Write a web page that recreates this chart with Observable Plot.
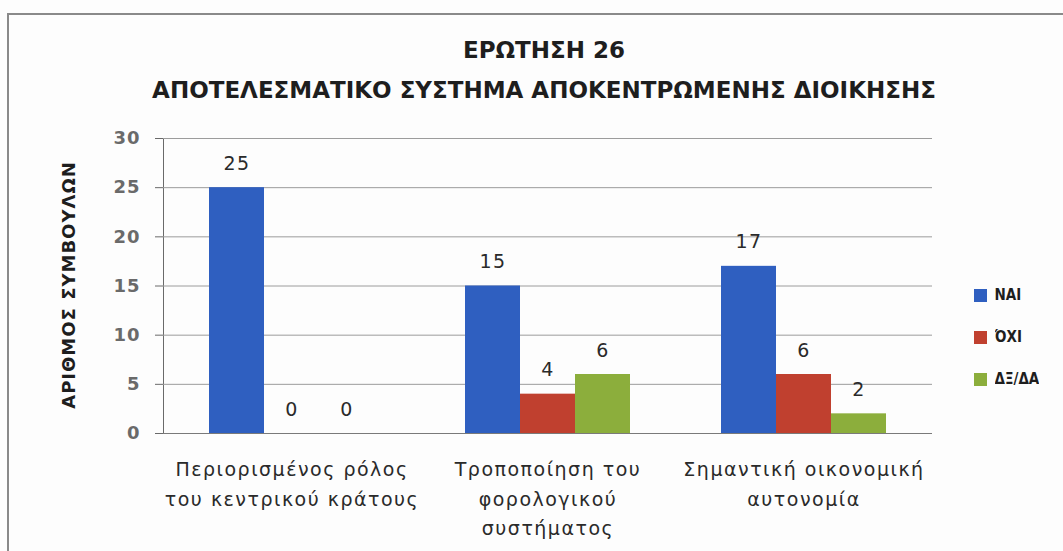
<!DOCTYPE html>
<html>
<head>
<meta charset="utf-8">
<script src="https://cdn.jsdelivr.net/npm/d3@7"></script>
<script src="https://cdn.jsdelivr.net/npm/@observablehq/plot@0.6"></script>
<style>
  body { margin: 0; background: #fdfdfd; }
  #chart { position: relative; width: 1063px; height: 551px; overflow: hidden; background: #fdfdfd; }
  #frame { position: absolute; left: 7px; top: 13px; width: 1200px; height: 700px; border-left: 2px solid #8a8a8a; border-top: 2px solid #8a8a8a; }
  #title { position: absolute; left: 0; top: 30px; width: 1088px; text-align: center; font-family: "DejaVu Sans", sans-serif; font-weight: bold; font-size: 23px; line-height: 40px; color: #1e1e1e; }
  #ylabel { position: absolute; left: 68px; top: 285px; transform: translate(-50%, -50%) rotate(-90deg); white-space: nowrap; font-family: "DejaVu Sans", sans-serif; font-weight: bold; font-size: 18px; letter-spacing: 1px; color: #1e1e1e; }
  .layer { position: absolute; left: 0; top: 0; }
  #legend { position: absolute; left: 974px; top: 275px; }
</style>
</head>
<body>
<div id="chart">
  <div id="frame"></div>
  <div id="grid" class="layer"></div>
  <div id="plot" class="layer"></div>
  <div id="title"></div>
  <div id="ylabel"></div>
  <div id="legend"></div>
</div>
<script>
const titleLines = ["ΕΡΩΤΗΣΗ 26", "ΑΠΟΤΕΛΕΣΜΑΤΙΚΟ ΣΥΣΤΗΜΑ ΑΠΟΚΕΝΤΡΩΜΕΝΗΣ ΔΙΟΙΚΗΣΗΣ"];
const yLabel = "ΑΡΙΘΜΟΣ ΣΥΜΒΟΥΛΩΝ";
const categories = [
  "Περιορισμένος ρόλος\nτου κεντρικού κράτους",
  "Τροποποίηση του\nφορολογικού\nσυστήματος",
  "Σημαντική οικονομική\nαυτονομία"
];
const series = ["ΝΑΙ", "ΌΧΙ", "ΔΞ/ΔΑ"];
const colors = ["#2f5fc0", "#c0402f", "#8cae3c"];
const valuesNAI = [25, 15, 17];
const valuesOXI = [0, 4, 6];
const valuesDXDA = [0, 6, 2];
const yTicks = [0, 5, 10, 15, 20, 25, 30];

const seriesValues = [valuesNAI, valuesOXI, valuesDXDA];
const data = categories.flatMap((c, i) => series.map((s, j) => ({category: c, series: s, value: seriesValues[j][i]})));

document.getElementById("title").innerHTML = titleLines.join("<br>");
document.getElementById("ylabel").textContent = yLabel;

const frame = {width: 1063, height: 551, marginLeft: 163, marginRight: 131, marginTop: 138, marginBottom: 118};

// Underlay: y axis and continuous gridlines across the whole plot area
const grid = Plot.plot({
  ...frame,
  style: {fontFamily: "'DejaVu Sans', sans-serif", fontSize: "18px", fontWeight: "bold", letterSpacing: "1px", color: "#6a6a6a", background: "transparent"},
  y: {domain: [0, 30], ticks: yTicks, label: null, tickSize: 8, tickPadding: 15, line: true},
  marks: [
    Plot.ruleY(yTicks, {stroke: "#9c9c9c", strokeWidth: 1}),
    Plot.ruleY([0], {stroke: "#7a7a7a", strokeWidth: 1})
  ]
});
document.getElementById("grid").appendChild(grid);

const chart = Plot.plot({
  ...frame,
  style: {fontFamily: "'DejaVu Sans', sans-serif", fontSize: "18px", letterSpacing: "1.5px", color: "#2a2a2a", background: "transparent", overflow: "visible"},
  fx: {domain: categories, paddingInner: 0.355, paddingOuter: 0.178, axis: null, label: null},
  x: {domain: series, axis: null, padding: 0},
  y: {domain: [0, 30], axis: null},
  color: {domain: series, range: colors},
  marks: [
    Plot.barY(data, {fx: "category", x: "series", y: "value", fill: "series", inset: 0}),
    Plot.text(data, {fx: "category", x: "series", y: "value", text: d => String(d.value), dy: -24, fontSize: 19, fill: "#2a2a2a"}),
    Plot.text(categories, {fx: d => d, text: d => d, frameAnchor: "bottom", dy: 22, lineAnchor: "top", lineHeight: 1.55, fontSize: 19, fill: "#2a2a2a"})
  ]
});
document.getElementById("plot").appendChild(chart);

const legend = Plot.legend({
  color: {domain: series, range: colors},
  legend: "swatches",
  columns: 1,
  swatchSize: 13,
  style: {fontFamily: "'DejaVu Sans Condensed', sans-serif", fontSize: "15px", fontWeight: "bold", color: "#1e1e1e", lineHeight: "41px"}
});
document.getElementById("legend").appendChild(legend);
</script>
</body>
</html>
